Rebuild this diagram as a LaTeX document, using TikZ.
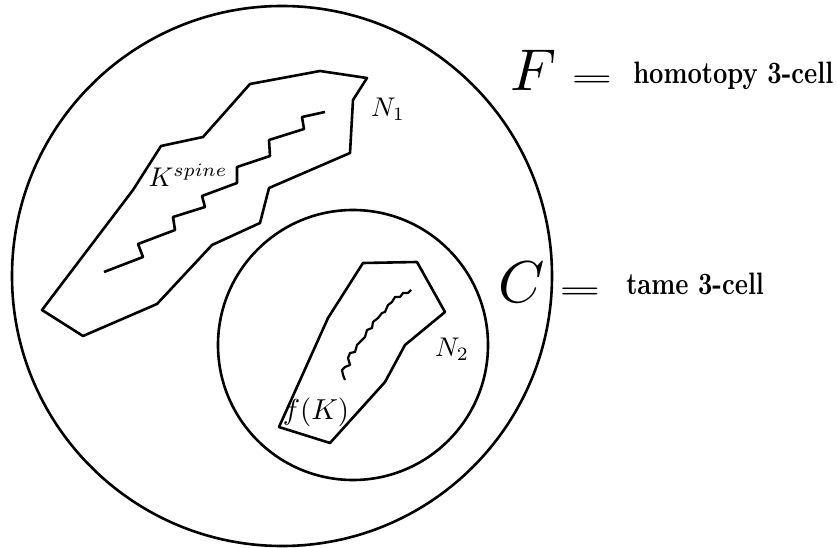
\documentclass[tikz,border=0pt]{standalone}
\usepackage{amsmath,amssymb}
\usetikzlibrary{positioning}

\begin{document}
\begin{tikzpicture}[x=1pt,y=-1pt,line width=2.6pt,line join=round,
    lbl/.style={inner sep=0pt,scale=2.7},
    big/.style={inner sep=0pt,scale=5.9},
    eqsign/.style={inner sep=0pt,xscale=4.6,yscale=2.4,font=\boldmath},
    txt/.style={inner sep=0pt,xscale=2.5,yscale=3.1,anchor=base west,font=\bfseries}]
    \useasboundingbox (0,0) rectangle (836,548);
    % ---- the homotopy cell and the tame cell
    \draw (282,276) circle [radius=270pt];
    \draw (353,345) circle [radius=135pt];
    % ---- N1 with the spine inside
    \draw (42,310) -- (83,336) -- (157,304) -- (212,245) -- (260,223) -- (269,188)
      -- (350,153) -- (353,100) -- (367,78) -- (320,71) -- (250,84) -- (203,137)
      -- (161,146) -- (133,190) -- cycle;
    \draw (325,112) -- (302,117) -- (304,129) -- (269,140) -- (270,156) -- (237,167)
      -- (237,183) -- (202,196) -- (205,207) -- (173,217) -- (175,230) -- (138,244)
      -- (143,257) -- (104,272);
    % ---- N2 with f(K) inside
    \draw (363,263) -- (417,262) -- (445,312) -- (405,345) -- (385,382) -- (330,443)
      -- (279,427) -- (328,318) -- cycle;
    \draw[line width=2.2pt] (411,290) -- (408,293) -- (403,293) -- (400,297) -- (395,297)
      -- (392,302) -- (388,305) -- (385,312) -- (382,313) -- (378,318) -- (373,322)
      -- (372,328) -- (367,330) -- (365,337) -- (360,342) -- (357,345) -- (355,352)
      -- (350,353) -- (348,358) -- (350,365) -- (345,367) -- (342,370) -- (343,375)
      -- (345,380);
    % ---- labels
    \node[lbl] (kspine) at (188,175) {$K^{spine}$};
    \node[lbl] (n1) at (388,109) {$N_1$};
    \node[lbl] (n2) at (452,349) {$N_2$};
    \node[lbl,scale=1.07] (fk) at (316,412) {$f(K)$};
    \node[big] (F) at (534,70) {$F$};
    \node[eqsign] (eqF) at (592,81) {$=$};
    \node[txt] (homot) at (630,84) {homotopy 3-cell};
    \node[big] (C) at (522,282) {$C$};
    \node[eqsign] (eqC) at (580,293) {$=$};
    \node[txt] (tame) at (623,295) {tame 3-cell};
\end{tikzpicture}
\end{document}
